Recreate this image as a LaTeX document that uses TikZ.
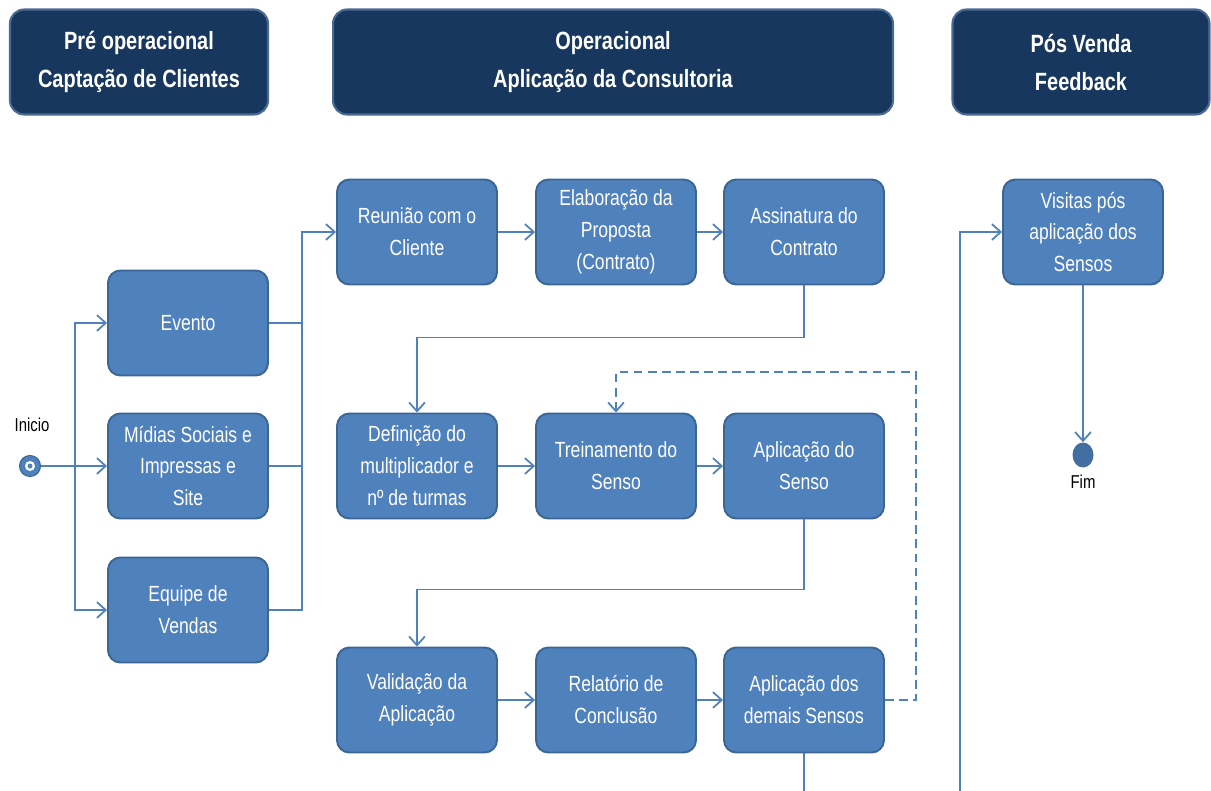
\documentclass[tikz,border=0pt]{standalone}
\usepackage{fontspec}
\setmainfont{Liberation Sans}[FakeStretch=0.8]
\usepackage{tikz}
\usetikzlibrary{arrows.meta, positioning, calc, shapes.geometric}
\definecolor{caixa}{HTML}{4F81BD}
\definecolor{borda}{HTML}{3A6594}
\definecolor{fundo}{HTML}{17375E}
\definecolor{bordafase}{HTML}{4A6A93}
\definecolor{seta}{HTML}{4F81BD}
\tikzset{>={Straight Barb[length=5pt,width=9pt]}}
\tikzset{
  passo/.style={draw=borda, line width=1.1pt, fill=caixa, rounded corners=7pt,
    minimum width=3.2cm, minimum height=2.1cm, align=center, text=white,
    font=\fontsize{12.5}{18.2}\selectfont},
  fase/.style={draw=bordafase, line width=1.2pt, fill=fundo, rounded corners=8pt,
    minimum height=2.1cm, align=center, text=white,
    font=\fontsize{14.2}{21.6}\selectfont\bfseries},
  linha/.style={draw=seta, line width=1pt},
  rotulo/.style={font=\fontsize{10.6}{12}\selectfont}
}

\begin{document}
\begin{tikzpicture}[x=0.02cm, y=-0.02cm]
        \useasboundingbox (0,0) rectangle (1211,791);

        % fases
        \node[fase, minimum width=5.16cm] (pre) at (139,62) {Pré operacional\\Captação de Clientes};
        \node[fase, minimum width=11.2cm] (oper) at (613,62) {Operacional\\Aplicação da Consultoria};
        \node[fase, minimum width=5.14cm] (pos) at (1081,62) {Pós Venda\\Feedback};

        % captacao
        \node[passo] (evento) at (188,323) {Evento};
        \node[passo] (midias) at (188,466) {Mídias Sociais e\\Impressas e\\Site};
        \node[passo] (equipe) at (188,610) {Equipe de\\Vendas};

        % consultoria
        \node[passo] (reuniao) at (417,232) {Reunião com o\\Cliente};
        \node[passo] (proposta) at (616,232) {Elaboração da\\Proposta\\(Contrato)};
        \node[passo] (contrato) at (804,232) {Assinatura do\\Contrato};
        \node[passo] (multiplicador) at (417,466) {Definição do\\multiplicador e\\nº de turmas};
        \node[passo] (treino) at (616,466) {Treinamento do\\Senso};
        \node[passo] (aplicacao) at (804,466) {Aplicação do\\Senso};
        \node[passo] (validacao) at (417,700) {Validação da\\Aplicação};
        \node[passo] (relatorio) at (616,700) {Relatório de\\Conclusão};
        \node[passo] (demais) at (804,700) {Aplicação dos\\demais Sensos};

        % pos venda
        \node[passo] (visitas) at (1083,232) {Visitas pós\\aplicação dos\\Sensos};

        % inicio e fim
        \node[circle, fill=seta, draw=borda, line width=0.6pt, minimum size=0.42cm, inner sep=0pt] (inicio) at (30,466) {};
        \fill[white] (inicio) circle (0.1cm);
        \fill[seta] (inicio) circle (0.05cm);
        \node[rotulo] (txtinicio) at (32,425) {Inicio};
        \node[ellipse, fill=seta!85!black, minimum width=0.42cm, minimum height=0.5cm, inner sep=0pt] (fim) at (1083,455) {};
        \node[rotulo] (txtfim) at (1083,482) {Fim};

        \coordinate (split) at (75,466);
        \coordinate (junta) at (302,466);

        \draw [linha, ->] (inicio) -- (midias);
        \draw [linha, ->] (split) |- (evento);
        \draw [linha, ->] (split) |- (equipe);

        \draw [linha] (evento.east) -| (junta);
        \draw [linha] (midias.east) -- (junta);
        \draw [linha, ->] (equipe.east) -| (junta) |- (reuniao.west);

        \draw [linha, ->] (reuniao) -- (proposta);
        \draw [linha, ->] (proposta) -- (contrato);
        \draw [linha, ->] (contrato.south) -- ++(0,52) -| (multiplicador.north);

        \draw [linha, ->] (multiplicador) -- (treino);
        \draw [linha, ->] (treino) -- (aplicacao);
        \draw [linha, ->] (aplicacao.south) -- ++(0,70) -| (validacao.north);

        \draw [linha, ->] (validacao) -- (relatorio);
        \draw [linha, ->] (relatorio) -- (demais);
        \draw [linha, ->, dashed, dash pattern=on 5pt off 3pt] (demais.east) -| ++(31,-328) -| (treino.north);

        \draw [linha, ->] (demais.south) -- ++(0,60) -| ++(156,-100) |- (visitas.west);
        \draw [linha, ->] (visitas.south) -- (fim.north);
\end{tikzpicture}
\end{document}
